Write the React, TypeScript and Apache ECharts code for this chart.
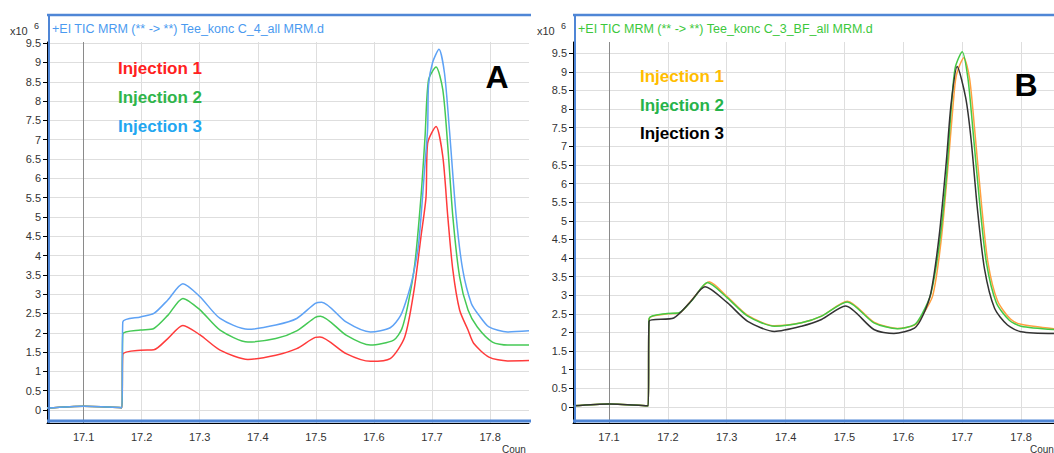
import React, { useEffect, useRef } from "react";
import * as echarts from "echarts";

// ---- tick labels ----
const yTickLabels = [0, 0.5, 1, 1.5, 2, 2.5, 3, 3.5, 4, 4.5, 5, 5.5, 6, 6.5, 7, 7.5, 8, 8.5, 9, 9.5];
const xTickLabels = [17.1, 17.2, 17.3, 17.4, 17.5, 17.6, 17.7, 17.8];
const legendNames = ["Injection 1", "Injection 2", "Injection 3"];
const markerTime = 17.1;

// ---- Panel A (Tee_konc C_4_all) ----
const aTime1 = [17.037, 17.1, 17.166, 17.1675, 17.198, 17.221, 17.245, 17.271, 17.3, 17.335, 17.383, 17.431, 17.467, 17.499, 17.507, 17.552, 17.594, 17.628, 17.653, 17.669, 17.681, 17.6897, 17.6925, 17.707, 17.7186, 17.7272, 17.7359, 17.7475, 17.762, 17.772, 17.798, 17.83, 17.867];
const aInj1 = [0.05, 0.1, 0.06, 1.44, 1.55, 1.56, 1.85, 2.19, 1.95, 1.55, 1.31, 1.42, 1.59, 1.88, 1.89, 1.46, 1.26, 1.33, 1.89, 3.1, 4.49, 5.52, 6.91, 7.34, 6.56, 5.0, 3.62, 2.59, 2.07, 1.72, 1.37, 1.27, 1.28];

const aTime2 = [17.037, 17.1, 17.166, 17.1675, 17.198, 17.221, 17.245, 17.271, 17.3, 17.335, 17.383, 17.431, 17.467, 17.499, 17.508, 17.552, 17.594, 17.634, 17.648, 17.659, 17.6705, 17.681, 17.688, 17.694, 17.707, 17.7186, 17.7272, 17.7359, 17.7475, 17.762, 17.778, 17.804, 17.83, 17.867];
const aInj2 = [0.05, 0.1, 0.06, 1.96, 2.07, 2.11, 2.45, 2.89, 2.6, 2.07, 1.76, 1.85, 2.05, 2.4, 2.43, 1.94, 1.68, 1.81, 2.1, 2.76, 3.8, 5.52, 7.08, 8.55, 8.88, 8.29, 6.82, 5.0, 3.45, 2.59, 2.15, 1.76, 1.68, 1.68];

const aTime3 = [17.037, 17.1, 17.166, 17.1675, 17.198, 17.221, 17.245, 17.271, 17.3, 17.335, 17.383, 17.431, 17.467, 17.499, 17.51, 17.552, 17.594, 17.628, 17.646, 17.659, 17.667, 17.677, 17.688, 17.6925, 17.694, 17.701, 17.712, 17.7215, 17.73, 17.7417, 17.753, 17.7677, 17.781, 17.798, 17.83, 17.867];
const aInj3 = [0.05, 0.1, 0.06, 2.28, 2.41, 2.5, 2.85, 3.27, 2.94, 2.37, 2.09, 2.2, 2.37, 2.76, 2.79, 2.28, 2.02, 2.13, 2.45, 3.0, 3.45, 4.31, 6.39, 7.3, 8.42, 9.0, 9.34, 8.72, 7.25, 5.0, 3.62, 2.76, 2.45, 2.15, 2.02, 2.05];

// ---- Panel B (Tee_konc C_3_BF_all) ----
const bTime1 = [17.039, 17.1, 17.1665, 17.168, 17.199, 17.219, 17.243, 17.27, 17.301, 17.3356, 17.381, 17.427, 17.461, 17.505, 17.55, 17.59, 17.619, 17.632, 17.65, 17.664, 17.6756, 17.684, 17.69, 17.7028, 17.7125, 17.721, 17.7324, 17.7437, 17.76, 17.782, 17.8, 17.856];
const bInj1 = [0.03, 0.08, 0.03, 2.37, 2.5, 2.52, 2.92, 3.36, 2.96, 2.46, 2.18, 2.26, 2.44, 2.84, 2.28, 2.11, 2.2, 2.45, 2.99, 4.43, 6.4, 8.0, 8.9, 9.38, 8.83, 7.48, 5.51, 3.89, 2.85, 2.36, 2.22, 2.1];

const bTime2 = [17.039, 17.1, 17.1665, 17.168, 17.199, 17.219, 17.243, 17.267, 17.301, 17.3356, 17.381, 17.427, 17.461, 17.5046, 17.55, 17.59, 17.619, 17.632, 17.647, 17.661, 17.673, 17.681, 17.688, 17.7, 17.7097, 17.718, 17.7295, 17.741, 17.758, 17.78, 17.8, 17.856];
const bInj2 = [0.03, 0.08, 0.03, 2.37, 2.51, 2.53, 2.9, 3.34, 2.93, 2.44, 2.17, 2.26, 2.44, 2.82, 2.26, 2.1, 2.21, 2.5, 3.05, 4.34, 6.13, 7.93, 9.1, 9.54, 8.83, 7.48, 5.51, 3.89, 2.8, 2.33, 2.17, 2.08];

const bTime3 = [17.039, 17.1, 17.1665, 17.168, 17.21, 17.237, 17.263, 17.301, 17.3356, 17.381, 17.427, 17.461, 17.5017, 17.55, 17.584, 17.619, 17.633, 17.647, 17.661, 17.673, 17.681, 17.6915, 17.706, 17.715, 17.726, 17.738, 17.755, 17.777, 17.8, 17.856];
const bInj3 = [0.03, 0.08, 0.03, 2.3, 2.39, 2.8, 3.23, 2.8, 2.3, 2.03, 2.17, 2.35, 2.71, 2.08, 1.97, 2.12, 2.45, 3.08, 4.61, 6.58, 8.11, 9.14, 8.3, 7.2, 5.3, 3.7, 2.65, 2.2, 2.02, 1.97];

const pairs = (t: number[], v: number[]) => t.map((x, i) => [x, v[i]]);

const FONT = 'Arial, "Liberation Sans", sans-serif';
const GRID_COLOR = "#dedede";
const FRAME = "#4f86d6";

const A_COLORS = ["#ff3b3b", "#45c955", "#5ea2f5"];
const A_TEXT = ["#ff2020", "#2fb54a", "#22a6f0"];
const B_COLORS = ["#ffa040", "#44c944", "#333333"];
const B_TEXT = ["#ffbd00", "#26b34a", "#000000"];

function xAxisCfg(gridIndex: number, min: number, max: number) {
  return {
    type: "value",
    gridIndex,
    min,
    max,
    axisLine: { show: true, onZero: false, lineStyle: { color: "#000", width: 1 } },
    axisTick: { show: false, customValues: xTickLabels },
    axisLabel: {
      customValues: xTickLabels,
      color: "#333",
      fontSize: 11,
      fontFamily: FONT,
      margin: 8,
      formatter: (v: number) => v.toFixed(1),
    },
    splitLine: { show: true, lineStyle: { color: GRID_COLOR, width: 1 } },
  };
}

function yAxisCfg(gridIndex: number, min: number, max: number) {
  return {
    type: "value",
    gridIndex,
    min,
    max,
    axisLine: { show: true, onZero: false, lineStyle: { color: "#000", width: 1 } },
    axisTick: { show: true, length: 4, customValues: yTickLabels, lineStyle: { color: "#000" } },
    axisLabel: {
      customValues: yTickLabels,
      color: "#333",
      fontSize: 11,
      fontFamily: FONT,
      margin: 6,
    },
    splitLine: { show: true, lineStyle: { color: GRID_COLOR, width: 1 } },
  };
}

function lineSeries(name: string, idx: number, data: number[][], color: string, withMarker: boolean) {
  const s: any = {
    type: "line",
    name,
    xAxisIndex: idx,
    yAxisIndex: idx,
    data,
    showSymbol: false,
    smooth: 0.25,
    lineStyle: { color, width: 1.5 },
    z: 3,
  };
  if (withMarker) {
    s.markLine = {
      silent: true,
      symbol: "none",
      label: { show: false },
      lineStyle: { color: "#8a8a8a", width: 1, type: "solid" },
      data: [{ xAxis: markerTime }],
      z: 2,
    };
  }
  return s;
}

function frameLines(x0: number, x1: number) {
  return [
    { type: "line", shape: { x1: x0, y1: 15, x2: x1, y2: 15 }, style: { stroke: FRAME, lineWidth: 2.5 }, z: 10 },
    { type: "line", shape: { x1: x0 + 2, y1: 15, x2: x0 + 2, y2: 423 }, style: { stroke: FRAME, lineWidth: 2 }, z: 10 },
    { type: "line", shape: { x1: x0, y1: 421, x2: x1, y2: 421 }, style: { stroke: FRAME, lineWidth: 3 }, z: 10 },
  ];
}

function text(x: number, y: number, s: string, fill: string, fontSize: number, extra: any = {}) {
  return {
    type: "text",
    x,
    y,
    z: 20,
    style: {
      text: s,
      fill,
      fontSize,
      fontFamily: FONT,
      textVerticalAlign: "middle",
      textAlign: "left",
      ...extra,
    },
  };
}

export default function App() {
  const ref = useRef<HTMLDivElement>(null);

  useEffect(() => {
    if (!ref.current) return;
    const chart = echarts.init(ref.current, undefined, { renderer: "svg" });

    const option: any = {
      animation: false,
      backgroundColor: "#ffffff",
      grid: [
        { left: 47, top: 42, width: 482, height: 381 },
        { left: 573, top: 42, width: 481, height: 381 },
      ],
      xAxis: [xAxisCfg(0, 17.037, 17.867), xAxisCfg(1, 17.0388, 17.856)],
      yAxis: [yAxisCfg(0, -0.337, 9.53), yAxisCfg(1, -0.43, 9.8)],
      series: [
        lineSeries(legendNames[0], 0, pairs(aTime1, aInj1), A_COLORS[0], true),
        lineSeries(legendNames[1], 0, pairs(aTime2, aInj2), A_COLORS[1], false),
        lineSeries(legendNames[2], 0, pairs(aTime3, aInj3), A_COLORS[2], false),
        lineSeries(legendNames[0], 1, pairs(bTime1, bInj1), B_COLORS[0], true),
        lineSeries(legendNames[1], 1, pairs(bTime2, bInj2), B_COLORS[1], false),
        lineSeries(legendNames[2], 1, pairs(bTime3, bInj3), B_COLORS[2], false),
      ],
      graphic: [
        ...frameLines(47, 531),
        ...frameLines(573, 1054),
        text(52, 29, "+EI TIC MRM (** -> **) Tee_konc C_4_all MRM.d", "#4a9af0", 12.5),
        text(578, 29, "+EI TIC MRM (** -> **) Tee_konc C_3_BF_all MRM.d", "#3cc83c", 12.5),
        text(10, 31, "x10", "#333", 11),
        text(34, 26, "6", "#333", 9),
        text(537, 31, "x10", "#333", 11),
        text(561, 26, "6", "#333", 9),
        text(118, 68, legendNames[0], A_TEXT[0], 17, { fontWeight: "bold" }),
        text(118, 97, legendNames[1], A_TEXT[1], 17, { fontWeight: "bold" }),
        text(118, 126, legendNames[2], A_TEXT[2], 17, { fontWeight: "bold" }),
        text(640, 76, legendNames[0], B_TEXT[0], 17, { fontWeight: "bold" }),
        text(640, 105, legendNames[1], B_TEXT[1], 17, { fontWeight: "bold" }),
        text(640, 133, legendNames[2], B_TEXT[2], 17, { fontWeight: "bold" }),
        text(497, 77, "A", "#000", 32, { fontWeight: "bold", textAlign: "center" }),
        text(1026, 85, "B", "#000", 32, { fontWeight: "bold", textAlign: "center" }),
        text(502, 449, "Coun", "#333", 10),
        text(1030, 449, "Coun", "#333", 10),
      ],
    };

    chart.setOption(option);
    return () => chart.dispose();
  }, []);

  return (
    <div
      ref={ref}
      style={{ position: "absolute", left: 0, top: 0, width: 1054, height: 453, background: "#fff" }}
    />
  );
}
